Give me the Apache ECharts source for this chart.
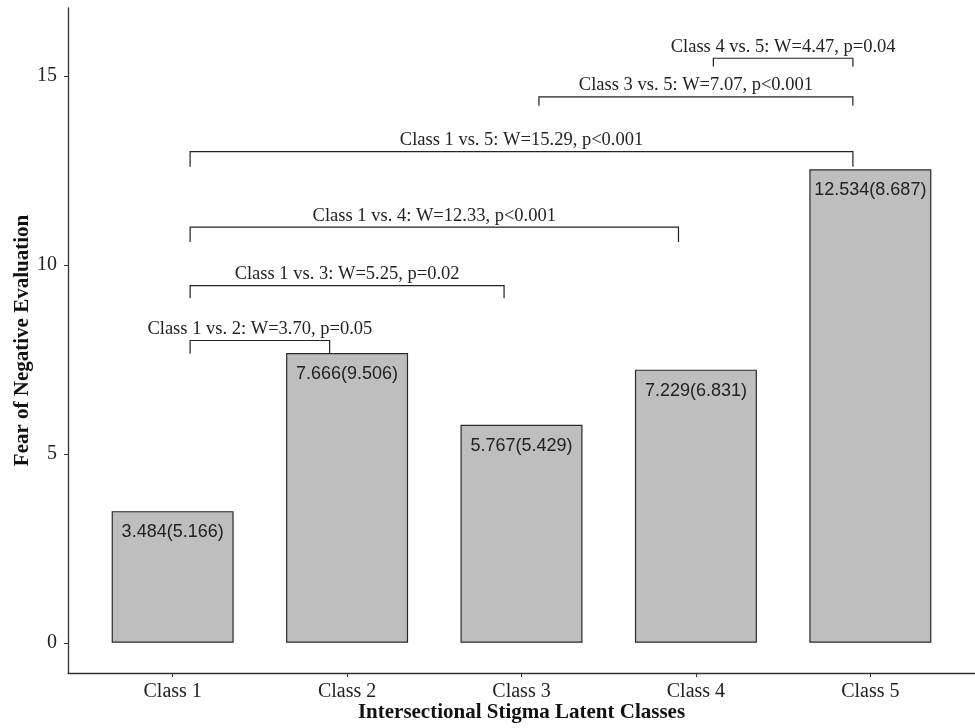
<!DOCTYPE html>
<html>
<head>
<meta charset="utf-8">
<script src="https://cdn.jsdelivr.net/npm/echarts@6/dist/echarts.min.js"></script>
<style>
  html, body { margin: 0; padding: 0; background: #fff; }
  #chart { width: 975px; height: 728px; }
</style>
</head>
<body>
<div id="chart"></div>
<script>
// Latent class positions and labels
const classPositions = [1, 2, 3, 4, 5];
const classNames = ['Class 1', 'Class 2', 'Class 3', 'Class 4', 'Class 5'];

// Mean and SD of fear of negative evaluation per class
const means = [3.484, 7.666, 5.767, 7.229, 12.534];
const sds = [5.166, 9.506, 5.429, 6.831, 8.687];

// Pairwise comparisons (brackets)
const compFrom = [1, 1, 1, 1, 3, 4];
const compTo = [2, 3, 4, 5, 5, 5];
const compY = [8.0, 9.45, 11.0, 13.0, 14.45, 15.47];
const compTipEnd = [7.65, 9.12, 10.61, 12.6, 14.21, 15.25];
const compLabels = [
  'Class 1 vs. 2: W=3.70, p=0.05',
  'Class 1 vs. 3: W=5.25, p=0.02',
  'Class 1 vs. 4: W=12.33, p<0.001',
  'Class 1 vs. 5: W=15.29, p<0.001',
  'Class 3 vs. 5: W=7.07, p<0.001',
  'Class 4 vs. 5: W=4.47, p=0.04'
];

// Y axis ticks
const yTicks = [0, 5, 10, 15];

const serif = '"Liberation Serif", "Times New Roman", serif';
const sans = '"Liberation Sans", Arial, sans-serif';
const axisColor = '#333';

const barData = classPositions.map((x, i) => [x, means[i], sds[i]]);
const bracketData = compFrom.map((f, i) => [f, compTo[i], compY[i], compTipEnd[i], i]);

const chart = echarts.init(document.getElementById('chart'), null, { renderer: 'canvas' });

chart.setOption({
  animation: false,
  backgroundColor: '#fff',
  grid: { left: 68, right: 0, top: 8, bottom: 55, containLabel: false, outerBoundsMode: 'none' },
  xAxis: {
    type: 'value',
    min: 0.4,
    max: 5.6,
    name: 'Intersectional Stigma Latent Classes',
    nameLocation: 'middle',
    nameGap: 29,
    nameMoveOverlap: false,
    nameTextStyle: { fontFamily: serif, fontWeight: 'bold', fontSize: 21, color: '#111' },
    axisLine: { show: true, onZero: false, lineStyle: { color: axisColor, width: 1.3 } },
    axisTick: { show: true, length: 4, lineStyle: { color: axisColor }, customValues: classPositions },
    axisLabel: {
      fontFamily: serif, fontSize: 20, color: '#222', margin: 9,
      customValues: classPositions,
      formatter: v => classNames[Math.round(v) - 1] || ''
    },
    splitLine: { show: false }
  },
  yAxis: {
    type: 'value',
    min: -0.8,
    max: 16.8,
    name: 'Fear of Negative Evaluation',
    nameLocation: 'middle',
    nameGap: 35,
    nameMoveOverlap: false,
    nameTextStyle: { fontFamily: serif, fontWeight: 'bold', fontSize: 21, color: '#111' },
    axisLine: { show: true, onZero: false, lineStyle: { color: axisColor, width: 1.3 } },
    axisTick: { show: true, length: 4, lineStyle: { color: axisColor }, customValues: yTicks },
    axisLabel: { fontFamily: serif, fontSize: 20, color: '#222', margin: 11, customValues: yTicks },
    splitLine: { show: false }
  },
  series: [
    {
      type: 'bar',
      data: barData,
      barWidth: 122,
      itemStyle: { color: '#bebebe', borderColor: '#2a2a2a', borderWidth: 1.2 },
      label: {
        show: true,
        position: 'insideTop',
        distance: 12,
        fontFamily: sans,
        fontSize: 18,
        color: '#222',
        formatter: p => p.data[1].toFixed(3) + '(' + p.data[2].toFixed(3) + ')'
      }
    },
    {
      type: 'custom',
      data: bracketData,
      renderItem: (params, api) => {
        const inset = 0.1;
        const x1 = api.value(0) + inset;
        const x2 = api.value(1) - inset;
        const y = api.value(2);
        const yEnd = api.value(3);
        const idx = api.value(4);
        const pL = api.coord([x1, y]);
        const pR = api.coord([x2, y]);
        const pLb = api.coord([x1, yEnd]);
        const pRb = api.coord([x2, yEnd]);
        const stroke = { stroke: '#222', lineWidth: 1.2, fill: null };
        return {
          type: 'group',
          children: [
            { type: 'polyline', shape: { points: [pLb, pL, pR, pRb] }, style: stroke },
            {
              type: 'text',
              style: {
                x: (pL[0] + pR[0]) / 2,
                y: pL[1] - 2,
                text: compLabels[idx],
                fontFamily: serif,
                fontSize: 18.5,
                fill: '#222',
                align: 'center',
                verticalAlign: 'bottom'
              }
            }
          ]
        };
      }
    }
  ]
});
</script>
</body>
</html>
